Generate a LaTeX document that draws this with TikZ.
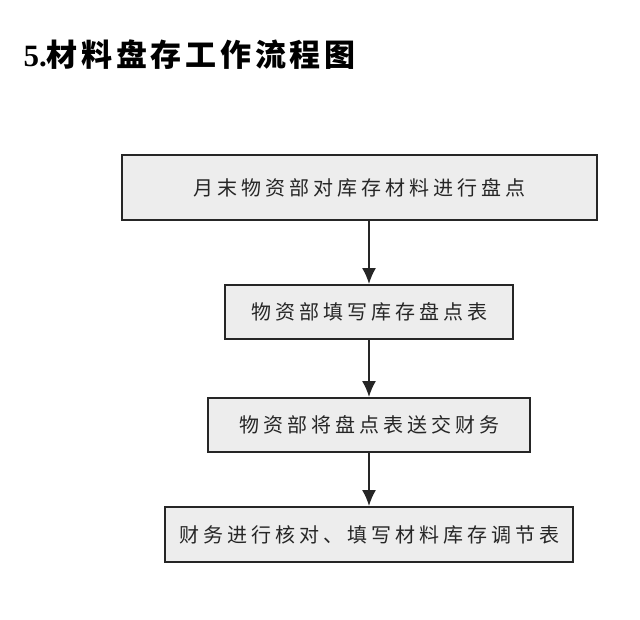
\documentclass[tikz,border=0pt]{standalone}
\usepackage{fontspec}
\usetikzlibrary{arrows.meta}
\newfontfamily\cjk{Noto Sans CJK SC}[LetterSpace=20]
\newfontfamily\cjktitle{Noto Sans CJK SC}[LetterSpace=12]
\setmainfont{Liberation Serif}
\begin{document}
\begin{tikzpicture}[x=1pt,y=-1pt,
  flowbox/.style={draw=black!85,line width=1.8pt,fill=black!7,inner sep=0pt,font=\cjk\fontsize{20}{20}\selectfont,text=black!85},
  flowarrow/.style={draw=black!85,line width=2pt,-{Latex[length=16pt,width=14pt]}}]
\useasboundingbox[fill=white] (0,0) rectangle (640,619);
\node[anchor=west,font=\bfseries\fontsize{31}{31}\selectfont] (title) at (20,55) {5.{\cjktitle\bfseries 材料盘存工作流程图}};
\node[flowbox,minimum width=475,minimum height=65] (b1) at (359.5,187.5) {月末物资部对库存材料进行盘点};
\node[flowbox,minimum width=288,minimum height=54] (b2) at (369,312) {物资部填写库存盘点表};
\node[flowbox,minimum width=322,minimum height=54] (b3) at (369,425) {物资部将盘点表送交财务};
\node[flowbox,minimum width=408,minimum height=55] (b4) at (369,534.5) {财务进行核对、填写材料库存调节表};
\draw[flowarrow] (b1.south -| b2.north) -- (b2.north);
\draw[flowarrow] (b2) -- (b3);
\draw[flowarrow] (b3) -- (b4);
\end{tikzpicture}
\end{document}
